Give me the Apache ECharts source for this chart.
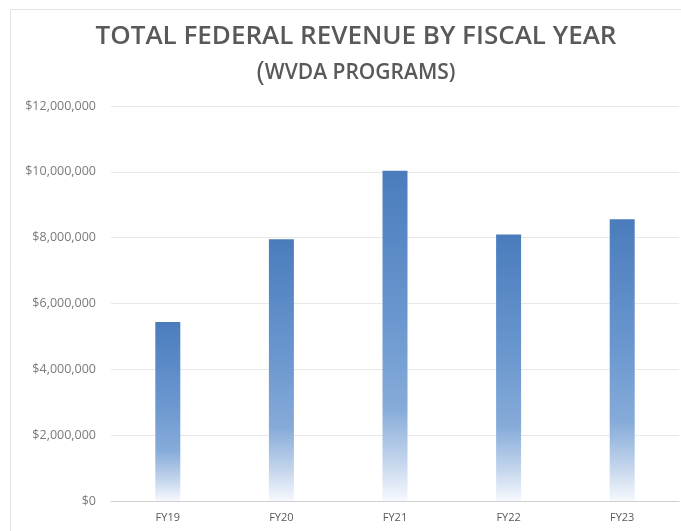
<!DOCTYPE html>
<html>
<head>
<meta charset="utf-8">
<script src="https://cdn.jsdelivr.net/npm/echarts@6/dist/echarts.min.js"></script>
<style>
  html, body { margin: 0; padding: 0; background: #ffffff; }
  #chart { width: 681px; height: 531px; }
</style>
</head>
<body>
<div id="chart"></div>
<script>
// Fiscal years and total federal revenue (USD) for WVDA programs
const fiscalYears = ['FY19', 'FY20', 'FY21', 'FY22', 'FY23'];
const federalRevenue = [5440000, 7950000, 10030000, 8100000, 8560000];
const yTicks = [0, 2000000, 4000000, 6000000, 8000000, 10000000, 12000000];

const fmtMoney = v => '$' + Math.round(v).toLocaleString('en-US');

const chart = echarts.init(document.getElementById('chart'), null, { renderer: 'canvas' });

chart.setOption({
  backgroundColor: '#ffffff',
  animation: false,
  graphic: [
    {
      type: 'rect',
      silent: true,
      shape: { x: 10.5, y: 9.5, width: 700, height: 560 },
      style: { fill: 'none', stroke: '#e3e3e3', lineWidth: 1 }
    }
  ],
  title: {
    text: 'TOTAL FEDERAL REVENUE BY FISCAL YEAR',
    subtext: '{p|(}{t|WVDA PROGRAMS)}',
    left: 351,
    textAlign: 'center',
    top: 19,
    itemGap: 9,
    textStyle: {
      fontFamily: 'Open Sans',
      fontWeight: 600,
      fontSize: 26,
      color: '#595959'
    },
    subtextStyle: {
      fontFamily: 'Open Sans',
      fontWeight: 600,
      color: '#595959',
      rich: {
        p: { fontFamily: 'Open Sans', fontWeight: 400, fontSize: 28, color: '#595959' },
        t: { fontFamily: 'Open Sans', fontWeight: 600, fontSize: 21, color: '#595959' }
      }
    }
  },
  grid: {
    left: 111,
    right: 2,
    top: 106,
    bottom: 30,
    containLabel: false
  },
  xAxis: {
    type: 'category',
    data: fiscalYears,
    axisLine: { lineStyle: { color: '#d0d0d0', width: 1 } },
    axisTick: { show: false },
    axisLabel: {
      color: '#595959',
      fontFamily: 'Open Sans',
      fontSize: 11,
      margin: 11
    }
  },
  yAxis: {
    type: 'value',
    min: yTicks[0],
    max: yTicks[yTicks.length - 1],
    interval: yTicks[1] - yTicks[0],
    axisLine: { show: false },
    axisTick: { show: false },
    splitLine: { lineStyle: { color: '#e8e8e8', width: 1 } },
    axisLabel: {
      color: '#7a7a7a',
      fontFamily: 'Open Sans',
      fontSize: 12.5,
      margin: 15,
      formatter: fmtMoney
    }
  },
  series: [
    {
      type: 'bar',
      data: federalRevenue,
      barWidth: 25,
      itemStyle: {
        color: new echarts.graphic.LinearGradient(0, 0, 0, 1, [
          { offset: 0, color: '#4a7cbc' },
          { offset: 0.45, color: '#6a97cf' },
          { offset: 0.72, color: '#86abd9' },
          { offset: 0.88, color: '#c3d5ec' },
          { offset: 1, color: '#f6f9fd' }
        ])
      }
    }
  ]
});
</script>
</body>
</html>
